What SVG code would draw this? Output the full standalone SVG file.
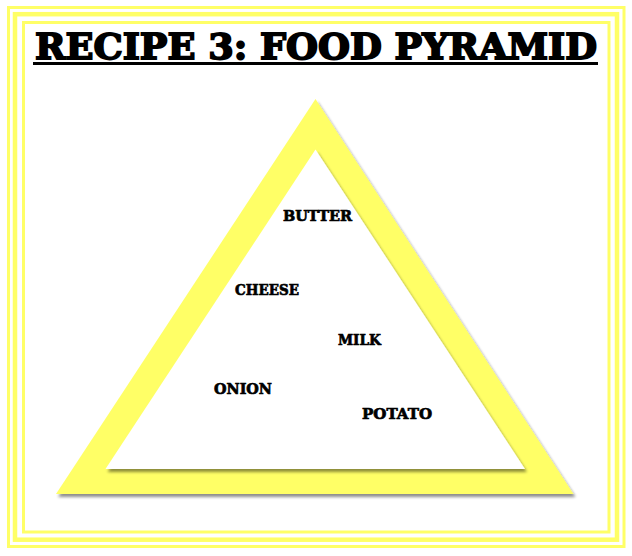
<svg xmlns="http://www.w3.org/2000/svg" width="632" height="556" viewBox="0 0 632 556">
<defs>
<style>
.frame{fill:none;stroke:#FFFF66}
.lbl{font-family:"DejaVu Serif","Liberation Serif",serif;font-weight:bold;font-size:15px;fill:#000;stroke:#000;stroke-width:0.7}
.title{font-family:"DejaVu Serif","Liberation Serif",serif;font-weight:bold;font-size:36px;fill:#000;stroke:#000;stroke-width:1.8}
</style>
<filter id="shadow" x="-10%" y="-10%" width="120%" height="120%">
<feGaussianBlur in="SourceAlpha" stdDeviation="1.6"/>
<feOffset dx="2" dy="3" result="b"/>
<feComponentTransfer><feFuncA type="linear" slope="0.45"/></feComponentTransfer>
<feMerge><feMergeNode/><feMergeNode in="SourceGraphic"/></feMerge>
</filter>
</defs>
<rect width="632" height="556" fill="#fff"/>
<g id="border">
<rect class="frame" x="8.5" y="7.5" width="615.5" height="539" stroke-width="3"/>
<rect class="frame" x="15" y="14.2" width="602" height="525.5" stroke-width="4.5"/>
<rect class="frame" x="23.5" y="22.5" width="585.5" height="509.5" stroke-width="3"/>
</g>
<g id="title">
<text class="title" x="35" y="58.5" textLength="562" lengthAdjust="spacingAndGlyphs">RECIPE 3: FOOD PYRAMID</text>
<line x1="33" y1="63.5" x2="598" y2="63.5" stroke="#000" stroke-width="3"/>
</g>
<g id="pyramid">
<polygon points="315.5,99 56,494 573.5,494" fill="#FFFF66" filter="url(#shadow)"/>
<polygon points="315.5,149.5 105.5,469 525,469" fill="#fff" filter="url(#shadow)"/>
</g>
<g id="butter"><text class="lbl" x="283" y="221" textLength="69" lengthAdjust="spacingAndGlyphs">BUTTER</text></g>
<g id="cheese"><text class="lbl" x="235" y="295" textLength="64" lengthAdjust="spacingAndGlyphs">CHEESE</text></g>
<g id="milk"><text class="lbl" x="338" y="345" textLength="43" lengthAdjust="spacingAndGlyphs">MILK</text></g>
<g id="onion"><text class="lbl" x="214" y="394" textLength="58" lengthAdjust="spacingAndGlyphs">ONION</text></g>
<g id="potato"><text class="lbl" x="362" y="419" textLength="70" lengthAdjust="spacingAndGlyphs">POTATO</text></g>
</svg>
